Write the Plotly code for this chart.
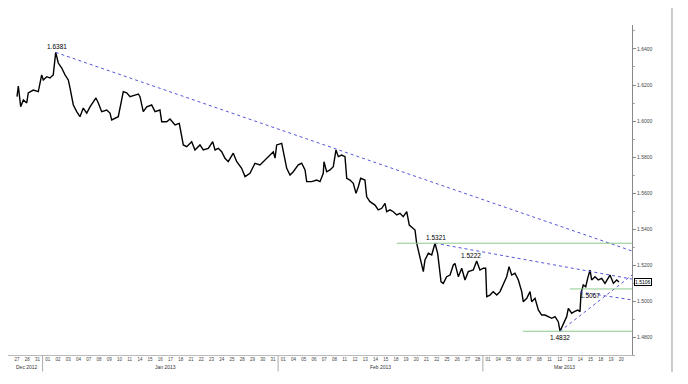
import plotly.graph_objects as go

# trading days shown on the x axis (index 0..59)
day_labels = ["27", "28", "31",
              "01", "02", "03", "04", "07", "08", "09", "10", "11", "14", "15", "16", "17", "18",
              "21", "22", "23", "24", "25", "28", "29", "30", "31",
              "01", "04", "05", "06", "07", "08", "11", "12", "13", "14", "15", "18", "19", "20",
              "21", "22", "25", "26", "27", "28",
              "01", "04", "05", "06", "07", "08", "11", "12", "13", "14", "15", "18", "19", "20"]
month_labels = ["Dec 2012", "Jan 2013", "Feb 2013", "Mar 2013"]
month_label_pos = [1.0, 14.5, 35.5, 53.5]
month_breaks = [2.5, 25.5, 45.5]

# price series (trading-day index, price)
t = [0.0, 0.13, 0.36, 0.62, 0.95, 1.10, 1.59, 2.08, 2.41, 2.57, 2.90, 3.22, 3.54, 3.78, 4.03, 4.37,
     4.69, 5.01, 5.18, 5.50, 5.83, 6.15, 6.47, 6.81, 7.13, 7.45, 7.71, 7.94, 8.27, 8.76, 9.08, 9.25,
     9.57, 9.89, 10.22, 10.38, 10.71, 11.04, 11.52, 11.85, 12.01, 12.33, 12.67, 13.15, 13.48, 13.96,
     14.13, 14.62, 14.94, 15.43, 15.85, 16.08, 16.24, 16.57, 17.06, 17.38, 17.87, 18.19, 18.68, 19.11,
     19.34, 19.66, 19.99, 20.31, 20.63, 21.12, 21.46, 21.94, 22.27, 22.75, 23.24, 23.73, 24.22, 24.71,
     25.03, 25.20, 25.36, 25.85, 26.00, 26.34, 26.66, 26.98, 27.47, 27.80, 28.13, 28.29, 28.78, 29.27,
     29.59, 29.91, 29.98, 30.24, 30.57, 30.89, 31.15, 31.38, 31.71, 32.03, 32.20, 32.52, 32.84, 33.11,
     33.33, 33.56, 33.98, 34.15, 34.47, 34.96, 35.28, 35.62, 35.94, 36.10, 36.43, 36.75, 37.08, 37.40,
     37.72, 38.06, 38.31, 38.87, 39.03, 39.36, 39.68, 39.84, 40.17, 40.50, 40.82, 41.08, 41.31, 41.41,
     41.63, 41.96, 42.29, 42.61, 42.77, 43.10, 43.43, 43.75, 44.07, 44.56, 44.89, 45.21, 45.54, 45.77,
     45.87, 46.19, 46.51, 46.85, 47.17, 47.49, 47.82, 48.05, 48.31, 48.63, 48.96, 49.29, 49.44, 49.78,
     50.10, 50.26, 50.59, 50.91, 51.24, 51.56, 51.89, 52.22, 52.54, 52.86, 53.03, 53.35, 53.68, 53.84,
     54.17, 54.42, 54.76, 54.98, 55.08, 55.30, 55.54, 55.73, 55.96, 56.12, 56.45, 56.77, 57.10, 57.42,
     57.91, 58.24, 58.56, 58.79]
price = [1.6135, 1.6194, 1.6079, 1.6117, 1.6100, 1.6156, 1.6172, 1.6163, 1.6256, 1.6228, 1.6246,
         1.6239, 1.6256, 1.6381, 1.6322, 1.6294, 1.6256, 1.6228, 1.6183, 1.6089, 1.6052, 1.6024,
         1.6072, 1.6044, 1.6078, 1.6107, 1.6128, 1.6100, 1.6052, 1.6061, 1.6044, 1.6006, 1.6017,
         1.6024, 1.6117, 1.6163, 1.6157, 1.6135, 1.6144, 1.6150, 1.6135, 1.6052, 1.6079, 1.6089,
         1.6052, 1.6061, 1.5996, 1.5996, 1.6011, 1.5978, 1.5987, 1.5922, 1.5867, 1.5857, 1.5885,
         1.5839, 1.5867, 1.5839, 1.5848, 1.5885, 1.5839, 1.5848, 1.5829, 1.5793, 1.5774, 1.5821,
         1.5774, 1.5737, 1.5691, 1.5709, 1.5765, 1.5756, 1.5783, 1.5811, 1.5829, 1.5794, 1.5867,
         1.5876, 1.5829, 1.5737, 1.5700, 1.5718, 1.5756, 1.5765, 1.5728, 1.5663, 1.5663, 1.5672,
         1.5663, 1.5709, 1.5774, 1.5718, 1.5728, 1.5746, 1.5839, 1.5802, 1.5811, 1.5802, 1.5682,
         1.5672, 1.5654, 1.5598, 1.5635, 1.5682, 1.5672, 1.5579, 1.5552, 1.5533, 1.5506, 1.5515,
         1.5543, 1.5496, 1.5506, 1.5496, 1.5478, 1.5487, 1.5468, 1.5496, 1.5422, 1.5394, 1.5321,
         1.5246, 1.5163, 1.5228, 1.5265, 1.5256, 1.5321, 1.5265, 1.5163, 1.5107, 1.5098, 1.5135,
         1.5144, 1.5200, 1.5209, 1.5135, 1.5182, 1.5117, 1.5163, 1.5172, 1.5222, 1.5172, 1.5182,
         1.5182, 1.5024, 1.5033, 1.5052, 1.5033, 1.5052, 1.5098, 1.5135, 1.5191, 1.5144, 1.5154,
         1.5117, 1.5052, 1.4996, 1.5015, 1.5052, 1.4996, 1.5015, 1.4950, 1.4922, 1.4922, 1.4913,
         1.4904, 1.4913, 1.4885, 1.4832, 1.4876, 1.4913, 1.4959, 1.4932, 1.4941, 1.4950, 1.4941,
         1.5043, 1.5089, 1.5079, 1.5126, 1.5172, 1.5117, 1.5135, 1.5117, 1.5126, 1.5098, 1.5144,
         1.5098, 1.5117, 1.5106]

last_price = "1.5106"

# trend lines (start t, start price, end t, end price)
trend_lines = [(3.78, 1.6381, 60.06, 1.5278),
               (40.82, 1.5321, 60.06, 1.5122),
               (54.98, 1.5050, 60.06, 1.5006),
               (53.03, 1.4832, 60.06, 1.5144)]
# horizontal levels (start t, level)
levels = [(37.1, 1.5321), (54.0, 1.5067), (49.4, 1.4832)]
# labelled pivots (t, price, text, position)
pivots = [(3.9, 1.6381, "1.6381", "above"),
          (40.9, 1.5321, "1.5321", "above"),
          (44.3, 1.5222, "1.5222", "above"),
          (56.0, 1.5067, "1.5067", "below"),
          (53.0, 1.4832, "1.4832", "below")]

y_ticks = [1.48, 1.50, 1.52, 1.54, 1.56, 1.58, 1.60, 1.62, 1.64]

X0, X1 = -0.879, 60.059
Y0, Y1 = 1.47, 1.65333
FONT = "Liberation Sans"

fig = go.Figure()
fig.add_trace(go.Scatter(x=t, y=price, mode="lines",
                         line=dict(color="black", width=1.4), hoverinfo="skip"))

for (xa, ya, xb, yb) in trend_lines:
    fig.add_shape(type="line", x0=xa, y0=ya, x1=xb, y1=yb, xref="x", yref="y",
                  line=dict(color="#5555d8", width=1, dash="dot"))
for (xs, lv) in levels:
    fig.add_shape(type="line", x0=xs, y0=lv, x1=X1, y1=lv, xref="x", yref="y",
                  line=dict(color="#8cc98c", width=1))

for (px, py, txt, pos) in pivots:
    fig.add_annotation(x=px, y=py, text=txt, showarrow=False, xref="x", yref="y",
                       yanchor="bottom" if pos == "above" else "top",
                       yshift=0 if pos == "above" else -1,
                       font=dict(size=6.5, color="black", family=FONT))

# current price box on the axis
fig.add_annotation(x=1.0, y=float(last_price), xref="paper", yref="y", text=last_price,
                   showarrow=False, xanchor="left", xshift=2,
                   font=dict(size=5, color="black", family=FONT),
                   bordercolor="black", borderwidth=1, borderpad=0, bgcolor="white")

for lab, pos in zip(month_labels, month_label_pos):
    fig.add_annotation(x=pos, y=-0.036, xref="x", yref="paper", text=lab, showarrow=False,
                       yanchor="middle", font=dict(size=5, color="#333", family=FONT))
for b in month_breaks:
    fig.add_shape(type="line", x0=b, x1=b, y0=0, y1=-0.05, xref="x", yref="paper",
                  line=dict(color="#aaaaaa", width=1))

# right frame line
fig.add_shape(type="line", x0=1.0641, x1=1.0641, y0=-0.052, y1=1.06, xref="paper", yref="paper",
              line=dict(color="#999999", width=1))

fig.update_layout(
    width=680, height=376,
    margin=dict(l=0, r=56, t=17, b=29),
    paper_bgcolor="white", plot_bgcolor="white",
    showlegend=False,
    xaxis=dict(range=[X0, X1], tickmode="array", tickvals=list(range(len(day_labels))),
               ticktext=day_labels, tickfont=dict(size=4.5, color="#444", family=FONT),
               showgrid=False, zeroline=False, showline=True, linecolor="#bbbbbb", linewidth=1,
               ticks="", tickangle=0, fixedrange=True),
    yaxis=dict(range=[Y0, Y1], side="right", tickmode="array", tickvals=y_ticks,
               ticktext=[f"{v:.4f}" for v in y_ticks],
               tickfont=dict(size=5, color="#444", family=FONT),
               showgrid=False, zeroline=False, showline=True, linecolor="#888888", linewidth=1,
               ticks="outside", ticklen=3, tickcolor="#888888",
               minor=dict(dtick=0.01, ticks="outside", ticklen=2, tickcolor="#aaaaaa", tick0=1.47),
               fixedrange=True),
)

fig.write_html("out.html")
